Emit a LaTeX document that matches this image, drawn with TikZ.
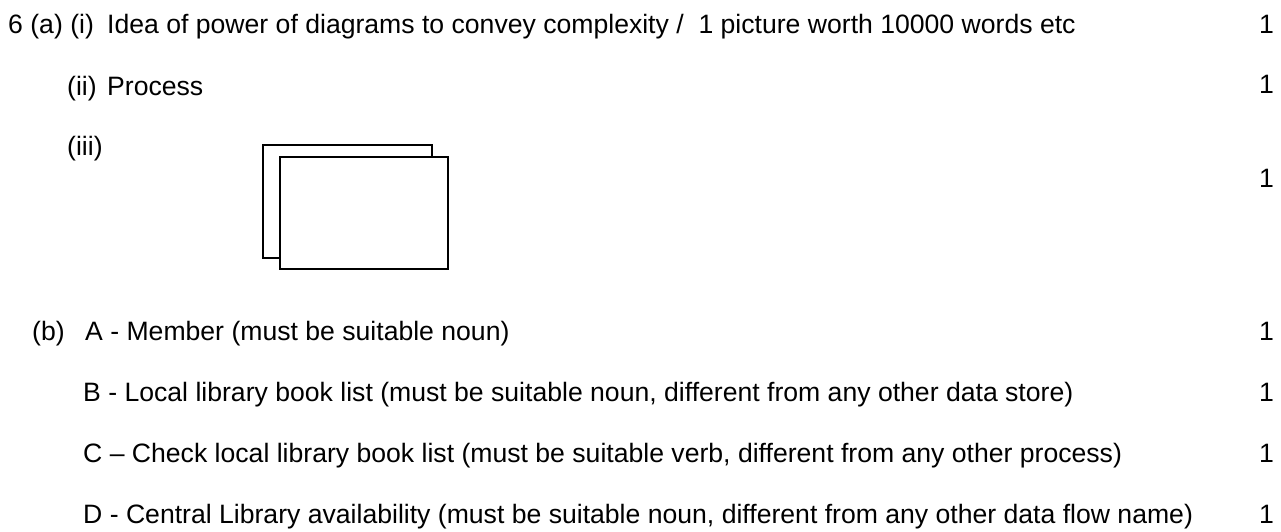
\documentclass[tikz,border=0pt]{standalone}
\usepackage{fontspec}
\setmainfont{Liberation Sans}
\usepackage{tikz}

\begin{document}
\begin{tikzpicture}[x=1pt,y=-1pt,
	txt/.style={anchor=base west,inner sep=0pt,font=\fontsize{26.6}{32}\selectfont},
	mark/.style={txt}]
			\useasboundingbox (0,0) rectangle (1281,531);
			\node[txt] (qa) at (8,33) {6 (a) (i)};
			\node[txt] (ai) at (107,33) {Idea of power of diagrams to convey complexity /\ \ 1 picture worth 10000 words etc};
			\node[txt] (qii) at (67,95) {(ii)};
			\node[txt] (aii) at (107,95) {Process};
			\node[txt] (qiii) at (67,155) {(iii)};
			\draw[line width=2pt] (263,145) rectangle (432,258);
			\filldraw[line width=2pt,fill=white] (280,157) rectangle (448,269);
			\node[txt] (qb) at (32,340) {(b)};
			\node[txt] (ba) at (85,340) {A - Member (must be suitable noun)};
			\node[txt] (bb) at (83,401) {B - Local library book list (must be suitable noun, different from any other data store)};
			\node[txt] (bc) at (83,462) {C -- Check local library book list (must be suitable verb, different from any other process)};
			\node[txt] (bd) at (83,523) {D - Central Library availability (must be suitable noun, different from any other data flow name)};
			\foreach \y [count=\i] in {33,93,187,340,401,462,523}
				\node[txt] (m\i) at (1259,\y) {1};
		\end{tikzpicture}
\end{document}
